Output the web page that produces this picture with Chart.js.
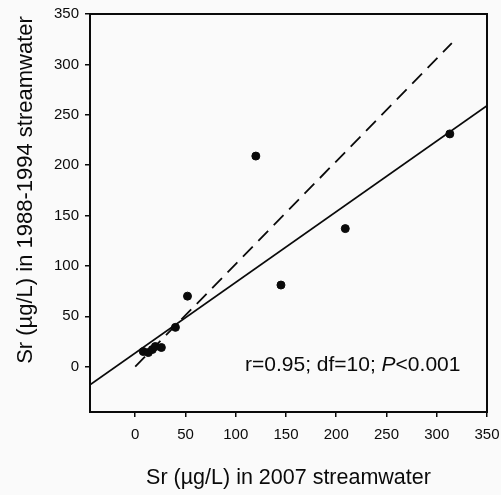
<!DOCTYPE html>
<html>
<head>
<meta charset="utf-8">
<script src="https://cdn.jsdelivr.net/npm/chart.js@4"></script>
<style>
  body { margin: 0; background: #fafafa; }
  #wrap { width: 501px; height: 495px; }
</style>
</head>
<body>
<div id="wrap"><canvas id="srChart" width="501" height="495"></canvas></div>
<script>
// Sr concentrations, 2007 vs 1988-1994 (µg/L)
const sr2007 = [8, 13, 17, 20, 26, 40, 52, 120, 145, 209, 313];
const sr1988 = [15, 14, 17, 20, 19, 39, 70, 209, 81, 137, 231];

// fitted line and 1:1 reference line, end points
const fitX = [-45, 350];
const fitY = [-18, 259];
const refX = [0, 315];
const refY = [0, 321];

const tickValues = [0, 50, 100, 150, 200, 250, 300, 350];
const statsText = ['r=0.95; df=10; ', 'P', '<0.001'];

const points = sr2007.map((x, i) => ({ x: x, y: sr1988[i] }));
const fitLine = fitX.map((x, i) => ({ x: x, y: fitY[i] }));
const refLine = refX.map((x, i) => ({ x: x, y: refY[i] }));

const FONT = 'Liberation Sans, Arial, sans-serif';
const INK = '#0a0a0a';

// frame, y title and stats label
const extras = {
  id: 'extras',
  afterDraw(chart) {
    const ctx = chart.ctx;
    const a = chart.chartArea;
    ctx.save();
    ctx.strokeStyle = INK;
    ctx.lineWidth = 2;
    ctx.strokeRect(a.left, a.top, a.right - a.left, a.bottom - a.top);
    ctx.restore();

    ctx.save();
    ctx.fillStyle = INK;
    ctx.font = '22px ' + FONT;
    ctx.translate(26, 190);
    ctx.rotate(-Math.PI / 2);
    ctx.textAlign = 'center';
    ctx.textBaseline = 'middle';
    ctx.fillText('Sr (\u00b5g/L) in 1988-1994 streamwater', 0, 0);
    ctx.restore();

    ctx.save();
    ctx.fillStyle = INK;
    ctx.textBaseline = 'alphabetic';
    let x = 245, y = 371;
    ctx.font = '21px ' + FONT;
    ctx.fillText(statsText[0], x, y);
    x += ctx.measureText(statsText[0]).width;
    ctx.font = 'italic 21px ' + FONT;
    ctx.fillText(statsText[1], x, y);
    x += ctx.measureText(statsText[1]).width;
    ctx.font = '21px ' + FONT;
    ctx.fillText(statsText[2], x, y);
    ctx.restore();
  }
};

function axis(pos) {
  return {
    type: 'linear',
    position: pos,
    min: -45,
    max: 350,
    afterBuildTicks(scale) {
      scale.ticks = tickValues.map(v => ({ value: v }));
    },
    grid: { drawOnChartArea: false, drawTicks: true, tickLength: 5, color: INK, lineWidth: 1.5 },
    border: { display: true, color: INK, width: 2 },
    ticks: { color: INK, font: { family: FONT, size: 15 }, padding: 6, maxRotation: 0 }
  };
}

const xAxis = axis('bottom');
xAxis.ticks.padding = 9;
xAxis.afterFit = s => { s.height = 83; s.paddingLeft = 0; s.paddingRight = 0; };
xAxis.title = {
  display: true,
  text: 'Sr (\u00b5g/L) in 2007 streamwater',
  color: INK,
  font: { family: FONT, size: 21.5 },
  padding: { top: 4, bottom: 4 }
};
const yAxis = axis('left');
yAxis.afterFit = s => { s.width = 90; s.paddingTop = 0; s.paddingBottom = 0; };

new Chart(document.getElementById('srChart'), {
  type: 'scatter',
  data: {
    datasets: [
      {
        data: points,
        backgroundColor: INK,
        borderColor: INK,
        pointRadius: 4,
        pointHoverRadius: 4
      },
      {
        type: 'line',
        data: fitLine,
        borderColor: INK,
        borderWidth: 1.8,
        pointRadius: 0,
        fill: false
      },
      {
        type: 'line',
        data: refLine,
        borderColor: INK,
        borderWidth: 1.8,
        borderDash: [14, 8],
        pointRadius: 0,
        fill: false
      }
    ]
  },
  options: {
    responsive: false,
    animation: false,
    layout: { padding: { left: 0, right: 14, top: 14, bottom: 0 } },
    plugins: { legend: { display: false }, tooltip: { enabled: false } },
    scales: { x: xAxis, y: yAxis }
  },
  plugins: [extras]
});
</script>
</body>
</html>
